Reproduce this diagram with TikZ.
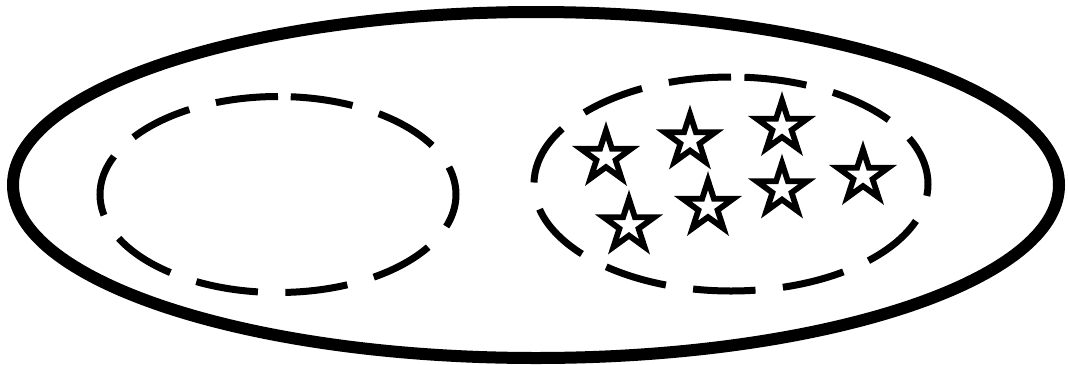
\documentclass[tikz,border=0pt]{standalone}
\usepackage{tikz}
\usetikzlibrary{shapes.geometric}
\tikzset{
  setall/.style={line width=0.3cm},
  setpart/.style={line width=0.175cm, dash pattern=on 1.5625cm off 0.6875cm},
  elem/.style={star, star points=5, star point ratio=2.618, draw=black,
               fill=white, line width=0.145cm, minimum size=1.32cm,
               inner sep=0pt}
}
\begin{document}
\begin{tikzpicture}[x=0.025cm, y=-0.025cm]
  \useasboundingbox (0,0) rectangle (1068,364);
  \draw[setall] (536,185) ellipse [x radius=523, y radius=173];
  % the two parts, dashes start at the top
  \draw[setpart] (278,96.5) arc [start angle=-90, end angle=-450,
                                 x radius=178, y radius=98];
  \draw[setpart] (731,77) arc [start angle=-90, end angle=-450,
                               x radius=197, y radius=107];
  \node[elem] (e1) at (606,157) {};
  \node[elem] (e2) at (690,140.5) {};
  \node[elem] (e3) at (782,127) {};
  \node[elem] (e4) at (863,176) {};
  \node[elem] (e5) at (782,189.5) {};
  \node[elem] (e6) at (708,207) {};
  \node[elem] (e7) at (629,225.5) {};
\end{tikzpicture}
\end{document}
